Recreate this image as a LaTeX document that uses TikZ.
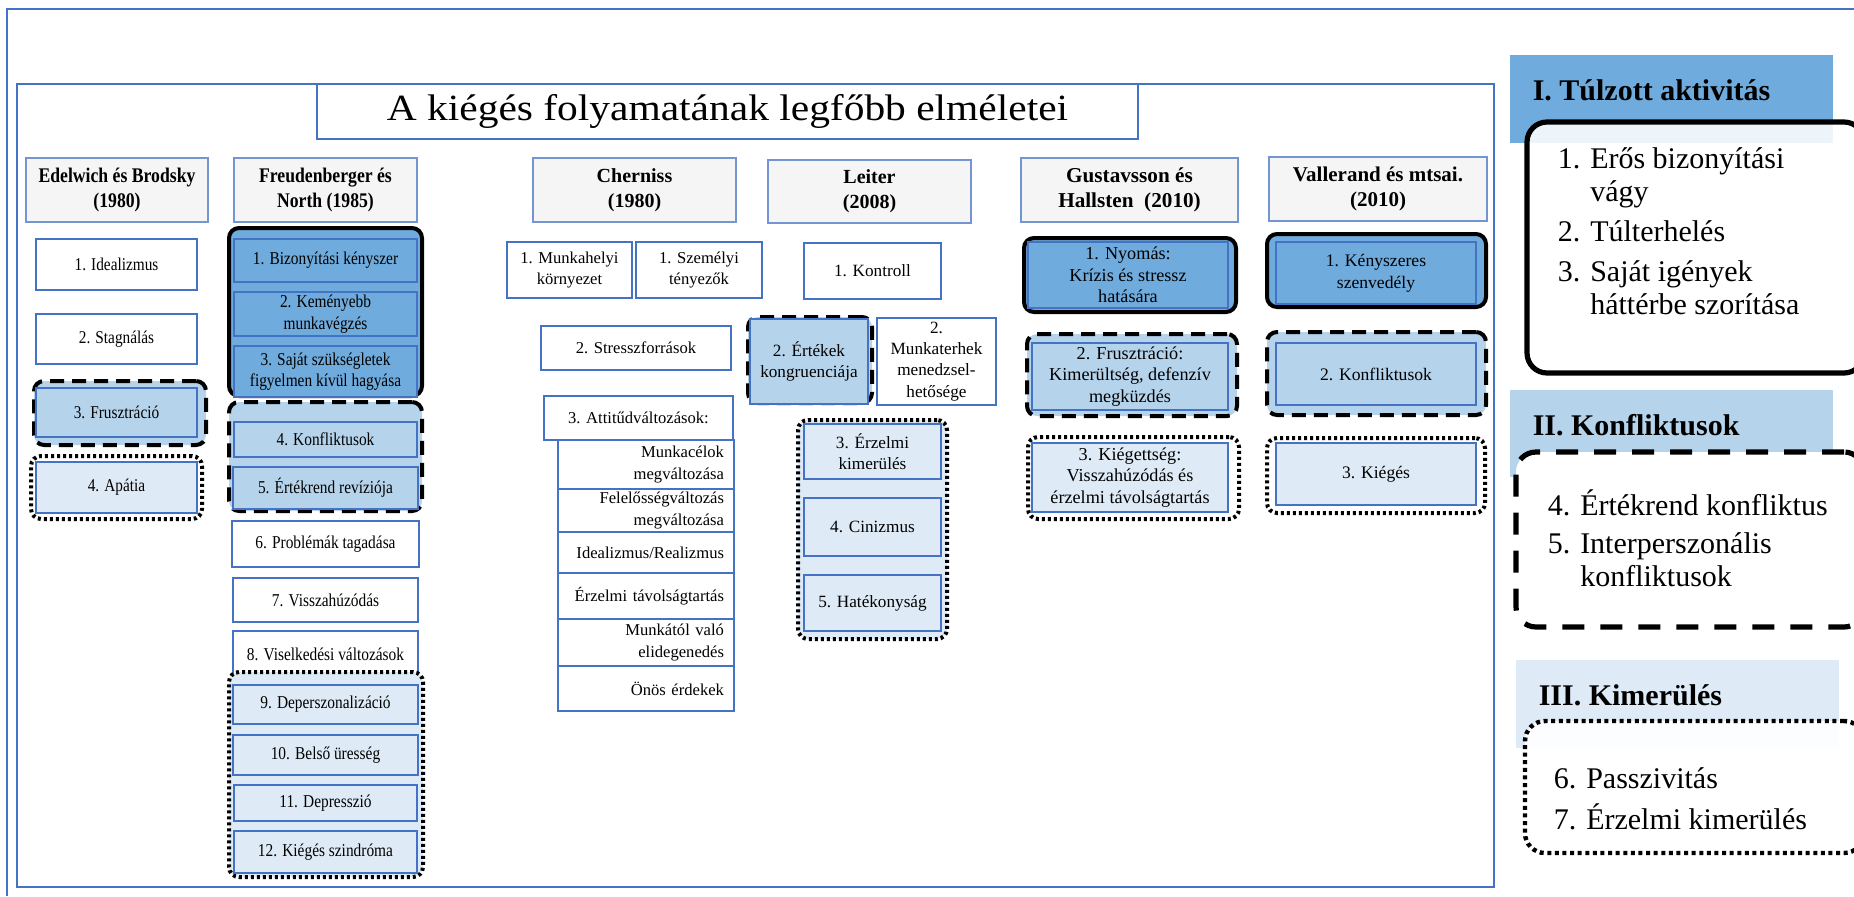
\documentclass[tikz,border=0pt]{standalone}
\usepackage{fontspec}
\setmainfont{Liberation Serif}
\newfontfamily\narrowserif[FakeStretch=0.85]{Liberation Serif}
\newfontfamily\wideserif[FakeStretch=1.12]{Liberation Serif}

\definecolor{frameblue}{RGB}{68,114,196}
\definecolor{darkfill}{RGB}{111,171,220}
\definecolor{lightfill}{RGB}{181,212,236}
\definecolor{palefill}{RGB}{222,235,247}
\definecolor{hdrgray}{RGB}{245,245,245}

\tikzset{every picture/.style={line width=0.75pt},
  wh/.style 2 args={minimum width=#1pt, minimum height=#2pt},
  titlebox/.style={draw=frameblue, fill=white, inner sep=0pt, font=\wideserif\fontsize{18.5}{22}\selectfont},
  hdr/.style={draw=frameblue!75, fill=hdrgray, line width=0.6pt, inner sep=0pt, align=center,
    font=\fontsize{10}{12.5}\selectfont\bfseries},
  stagebox/.style={draw=frameblue, fill=white, line width=0.75pt, inner sep=0pt, align=center,
    font=\fontsize{8.6}{10.8}\selectfont},
  stagedark/.style={stagebox, fill=darkfill},
  stagelight/.style={stagebox, fill=lightfill},
  stagepale/.style={stagebox, fill=palefill},
  subrow/.style={stagebox, text width=78pt, align=right},
  grpsolid/.style={draw=black, line width=2pt, rounded corners=5pt, inner sep=0pt, fill=darkfill},
  grpdashed/.style={draw=black, line width=2pt, rounded corners=5pt, inner sep=0pt, fill=lightfill,
    dash pattern=on 7pt off 4pt},
  grpdotted/.style={draw=black, line width=2pt, rounded corners=5pt, inner sep=0pt,
    dash pattern=on 1.5pt off 1.5pt},
  leghead/.style={inner sep=0pt, font=\fontsize{15}{18}\selectfont\bfseries},
  legtext/.style={inner sep=0pt, font=\fontsize{15}{16.5}\selectfont},
  legsolid/.style={draw=black, line width=2.6pt, rounded corners=10pt, inner sep=0pt, fill=white},
  legdashed/.style={legsolid, dash pattern=on 11pt off 8pt},
  legdotted/.style={legsolid, line width=2.2pt, dash pattern=on 2pt off 1.8pt}
}

\begin{document}
\begin{tikzpicture}[x=0.5pt,y=0.5pt,yscale=-1]
\useasboundingbox (0,0) rectangle (1854,896);

% Frames
\draw [frameblue] (1854,9) -- (7,9) -- (7,896);
\draw [frameblue] (17,84) rectangle (1494,887);

% Title
\node [titlebox, wh={410.5}{27.5}] (title) at (727.5,111.5) {A kiégés folyamatának legfőbb elméletei};

% Column headers
\node [hdr, wh={91}{32}, font=\narrowserif\fontsize{10.4}{12.5}\selectfont\bfseries] (hEdel) at (117,190) {Edelwich és Brodsky\\(1980)};
\node [hdr, wh={91.5}{32}, font=\narrowserif\fontsize{10.4}{12.5}\selectfont\bfseries] (hFreu) at (325.5,190) {Freudenberger és\\North (1985)};
\node [hdr, wh={101.5}{32}] (hCher) at (634.5,190) {Cherniss\\(1980)};
\node [hdr, wh={101.5}{31.5}] (hLeit) at (869.5,191.5) {Leiter\\(2008)};
\node [hdr, wh={108.5}{32}, font=\fontsize{10.6}{12.5}\selectfont\bfseries] (hGust) at (1129.5,190) {Gustavsson és\\Hallsten\ \ (2010)};
\node [hdr, wh={109}{32}, font=\fontsize{10.5}{12.5}\selectfont\bfseries] (hVall) at (1378,189) {Vallerand és mtsai.\\(2010)};

% Edelwich es Brodsky
\begin{scope}[stagebox/.append style={font=\narrowserif\fontsize{9}{10.8}\selectfont}]
\node [stagebox, wh={80.5}{25.5}] (edel1) at (116.5,264.5) {1. Idealizmus};
\node [stagebox, wh={80.5}{25}] (edel2) at (116.5,339) {2. Stagnálás};
\node [grpdashed, wh={86}{32}] (edelG3) at (120,413) {};
\node [stagelight, wh={80.5}{24.5}] (edel3) at (116.5,412.5) {3. Frusztráció};
\node [grpdotted, fill=white, wh={85.5}{31.5}] (edelG4) at (116.5,487.5) {};
\node [stagepale, wh={80.5}{25.5}] (edel4) at (116.5,487.5) {4. Apátia};
\end{scope}

% Freudenberger es North
\begin{scope}[stagebox/.append style={font=\narrowserif\fontsize{9.05}{10.8}\selectfont}]
\node [grpsolid, wh={96.5}{84}] (freuGa) at (325.5,312) {};
\node [stagedark, wh={91.5}{21.5}] (freu1) at (325.5,260.5) {1. Bizonyítási kényszer};
\node [stagedark, wh={91.5}{22}] (freu2) at (325.5,314) {2. Keményebb\\munkavégzés};
\node [stagedark, wh={91.5}{25.5}] (freu3) at (325.5,371.5) {3. Saját szükségletek\\figyelmen kívül hagyása};
\node [grpdashed, wh={96.5}{54.5}] (freuGb) at (325.5,456.5) {};
\node [stagelight, wh={91.5}{17.5}] (freu4) at (325.5,439.5) {4. Konfliktusok};
\node [stagelight, wh={92.5}{21}] (freu5) at (325.5,488) {5. Értékrend revíziója};
\node [stagebox, wh={93.5}{23}] (freu6) at (325.5,544) {6. Problémák tagadása};
\node [stagebox, wh={92.5}{22}] (freu7) at (325.5,600) {7. Visszahúzódás};
\node [stagebox, wh={92.5}{23}] (freu8) at (325.5,654) {8. Viselkedési változások};
\node [grpdotted, fill=palefill, wh={97}{102.5}] (freuGc) at (326,774.5) {};
\node [stagepale, wh={92.5}{19.5}] (freu9) at (325.5,704.5) {9. Deperszonalizáció};
\node [stagepale, wh={92.5}{20}] (freu10) at (325.5,755) {10. Belső üresség};
\node [stagepale, wh={91.5}{18}] (freu11) at (325.5,803) {11. Depresszió};
\node [stagepale, wh={91.5}{21}] (freu12) at (325.5,852) {12. Kiégés szindróma};
\end{scope}

% Cherniss
\begin{scope}[stagebox/.append style={font=\fontsize{8.3}{10.8}\selectfont}]
\node [stagebox, wh={62.5}{28}] (cherA) at (569.5,270) {1. Munkahelyi\\környezet};
\node [stagebox, wh={63}{28}] (cherB) at (699,270) {1. Személyi\\tényezők};
\node [stagebox, wh={95}{22}] (cher2) at (636,348) {2. Stresszforrások};
\node [stagebox, wh={94.5}{22}] (cher3) at (638.5,418) {3. Attitűdváltozások:};
\node [subrow, wh={88}{24.5}] (cherS1) at (646,464.5) {Munkacélok\\megváltozása};
\node [subrow, wh={88}{21.5}] (cherS2) at (646,510.5) {Felelősségváltozás\\megváltozása};
\node [subrow, wh={88}{20.5}] (cherS3) at (646,552.5) {Idealizmus/Realizmus};
\node [subrow, wh={88}{23}] (cherS4) at (646,596) {Érzelmi távolságtartás};
\node [subrow, wh={88}{23.5}] (cherS5) at (646,642.5) {Munkától való\\elidegenedés};
\node [subrow, wh={88}{22.5}] (cherS6) at (646,688.5) {Önös érdekek};
\end{scope}

% Leiter
\node [stagebox, wh={68.5}{28}] (leit1) at (872.5,271) {1. Kontroll};
\node [grpdashed, wh={62}{43}] (leitG2) at (810,360) {};
\node [stagelight, wh={59}{42.5}] (leit2) at (809,361.5) {2. Értékek\\kongruenciája};
\node [stagebox, wh={59.5}{43.5}, font=\fontsize{8.6}{10.6}\selectfont] (leit2b) at (936.5,361.5) {2.\\Munkaterhek\\menedzsel-\\hetősége};
\node [grpdotted, fill=palefill, wh={74.5}{109.5}] (leitG3) at (872.5,529.5) {};
\node [stagepale, wh={68.5}{27.5}] (leit3) at (872.5,451.5) {3. Érzelmi\\kimerülés};
\node [stagepale, wh={68.5}{29}] (leit4) at (872.5,527) {4. Cinizmus};
\node [stagepale, wh={68.5}{28}] (leit5) at (872.5,603) {5. Hatékonyság};

% Gustavsson es Hallsten
\begin{scope}[stagebox/.append style={font=\fontsize{9.1}{10.8}\selectfont}]
\node [grpsolid, wh={106}{37}] (gustG1) at (1130,275) {};
\node [stagedark, wh={100}{33}] (gust1) at (1128,275) {1. Nyomás:\\Krízis és stressz\\hatására};
\node [grpdashed, wh={105}{41}] (gustG2) at (1132,375) {};
\node [stagelight, wh={98}{33.5}] (gust2) at (1130,376.5) {2. Frusztráció:\\Kimerültség, defenzív\\megküzdés};
\node [grpdotted, fill=white, wh={105.5}{41}] (gustG3) at (1133.5,478) {};
\node [stagepale, wh={98}{34.5}] (gust3) at (1130,477.5) {3. Kiégettség:\\Visszahúzódás és\\érzelmi távolságtartás};
\end{scope}

% Vallerand es mtsai.
\begin{scope}[stagebox/.append style={font=\fontsize{8.8}{10.8}\selectfont}]
\node [grpsolid, wh={109.5}{36.5}] (vallG1) at (1376.5,270.5) {};
\node [stagedark, wh={100}{31}] (vall1) at (1376,273) {1. Kényszeres\\szenvedély};
\node [grpdashed, wh={109.5}{41.5}] (vallG2) at (1376.5,373.5) {};
\node [stagelight, wh={100}{31}] (vall2) at (1376,374) {2. Konfliktusok};
\node [grpdotted, fill=white, wh={109}{37.5}] (vallG3) at (1376,475.5) {};
\node [stagepale, wh={100}{31}] (vall3) at (1376,474) {3. Kiégés};
\end{scope}

% Legend
\begin{scope}
\clip (0,0) rectangle (1854,896);
\fill [darkfill] (1510,55) rectangle (1833,143);
\node [leghead, anchor=base west] (headI) at (1532,100) {I. Túlzott aktivitás};
\node [legsolid, fill opacity=0.88, wh={168.5}{125.5}] (boxI) at (1695.5,247.5) {};
\node [legtext, anchor=base west] (listI) at (1557,168) {\begin{tabular}[t]{@{}l@{\hspace{5pt}}l@{}}
1. & Erős bizonyítási\\ & vágy\\[3.5pt] 2. & Túlterhelés\\[3.5pt] 3. & Saját igények\\ & háttérbe szorítása\end{tabular}};

\fill [lightfill] (1510,390) rectangle (1833,477);
\node [leghead, anchor=base west] (headII) at (1532,435) {II. Konfliktusok};
\node [legdashed, wh={174}{87.5}] (boxII) at (1690,539.5) {};
\node [legtext, anchor=base west] (listII) at (1547,515) {\begin{tabular}[t]{@{}l@{\hspace{5pt}}l@{}}
4. & Értékrend konfliktus\\[2.5pt] 5. & Interperszonális\\ & konfliktusok\end{tabular}};

\fill [palefill] (1516,660) rectangle (1839,748);
\node [leghead, anchor=base west] (headIII) at (1538,705) {III. Kimerülés};
\node [legdotted, fill opacity=0.92, wh={169.5}{66}] (boxIII) at (1694.5,787) {};
\node [legtext, anchor=base west] (listIII) at (1553,788) {\begin{tabular}[t]{@{}l@{\hspace{5pt}}l@{}}
6. & Passzivitás\\[3pt] 7. & Érzelmi kimerülés\end{tabular}};
\end{scope}

\end{tikzpicture}
\end{document}
